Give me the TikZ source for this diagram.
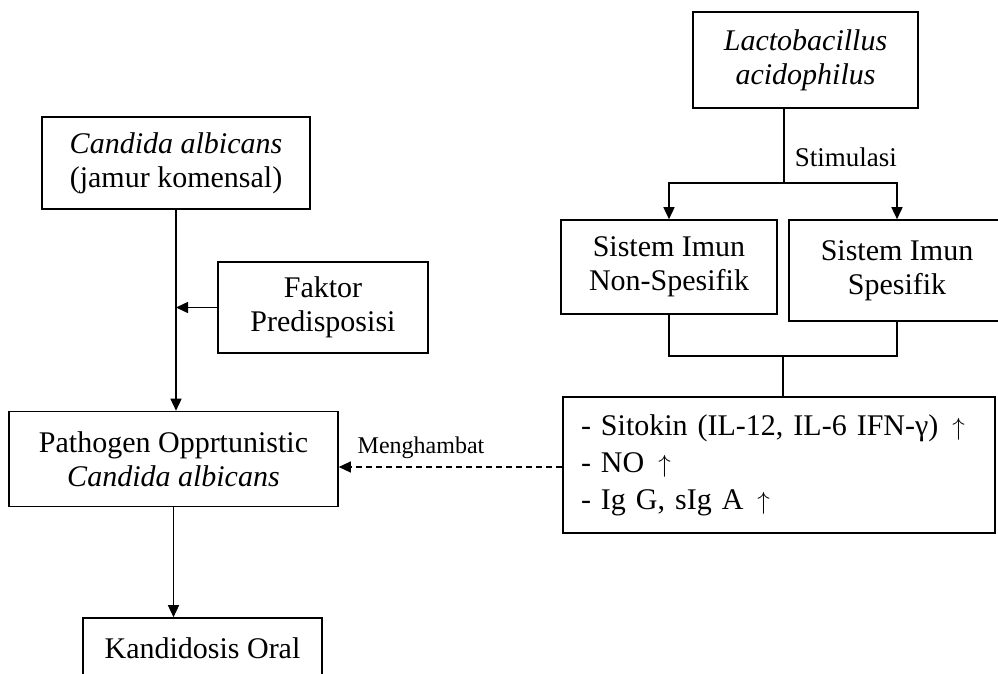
\documentclass[tikz,border=0pt]{standalone}
\usepackage{fontspec}
\setmainfont{Liberation Serif}
\usetikzlibrary{arrows.meta}
\newcommand{\upar}{\hspace{14pt}\(\uparrow\)}
\begin{document}
\begin{tikzpicture}[x=1pt,y=-1pt,line width=1.5pt,
  box/.style={draw,line width=1.6pt,inner sep=0pt,align=center,
    font=\fontsize{30}{34}\selectfont},
  lbl/.style={inner sep=0pt},
  arr/.style={-{Triangle[length=12pt,width=11pt]}}]
\useasboundingbox[fill=white] (0,0) rectangle (998,674);
% boxes
\node[box,minimum width=225pt,minimum height=96pt] (lacto) at (805.5,60)
  {\textit{Lactobacillus}\\\textit{acidophilus}};
\node[box,minimum width=268pt,minimum height=92pt] (candida) at (176,163)
  {\textit{Candida albicans}\\(jamur komensal)};
\node[box,minimum width=210pt,minimum height=91pt] (faktor) at (323,307.5)
  {Faktor\\Predisposisi};
\node[box,minimum width=329pt,minimum height=95pt] (patho) at (173.5,459)
  {Pathogen Opprtunistic\\\textit{Candida albicans}};
\node[box,minimum width=239pt,minimum height=60pt] (kandi) at (202.5,648)
  {Kandidosis Oral};
\node[box,minimum width=216pt,minimum height=94pt] (nonspes) at (669,267)
  {Sistem Imun\\Non-Spesifik};
\node[box,minimum width=216pt,minimum height=101pt] (spes) at (897,270.5)
  {Sistem Imun\\Spesifik};
\node[box,minimum width=432pt,minimum height=136pt,align=left,
  text width=396pt,font=\fontsize{30}{37}\selectfont] (result) at (779,465)
  {- Sitokin (IL-12, IL-6 IFN-γ)\upar\\- NO\upar\\- Ig G, sIg A\upar};
% connectors
\coordinate (split) at (784,183);
\coordinate (merge) at (783,356);
\draw (lacto.south -| split) -- (split);
\draw[arr] (split) -| (nonspes.north);
\draw[arr] (split) -| (spes.north);
\node[lbl,anchor=west,font=\fontsize{27}{30}\selectfont] (stim) at (794,157) {Stimulasi};
\draw[arr] (candida.south) -- (candida.south |- patho.north);
\draw[arr] (faktor.west) -- (faktor.west -| candida.south);
\draw[arr] (patho.south) -- (patho.south |- kandi.north);
\draw (nonspes.south) |- (merge) -| (spes.south);
\draw (merge) -- (merge |- result.north);
\draw[arr,dashed,dash pattern=on 6pt off 4pt,line width=1.3pt] (result.west |- 0,467) -- (patho.east |- 0,467);
\node[lbl,font=\fontsize{24}{28}\selectfont] (meng) at (421,448) {Menghambat};
\end{tikzpicture}
\end{document}
